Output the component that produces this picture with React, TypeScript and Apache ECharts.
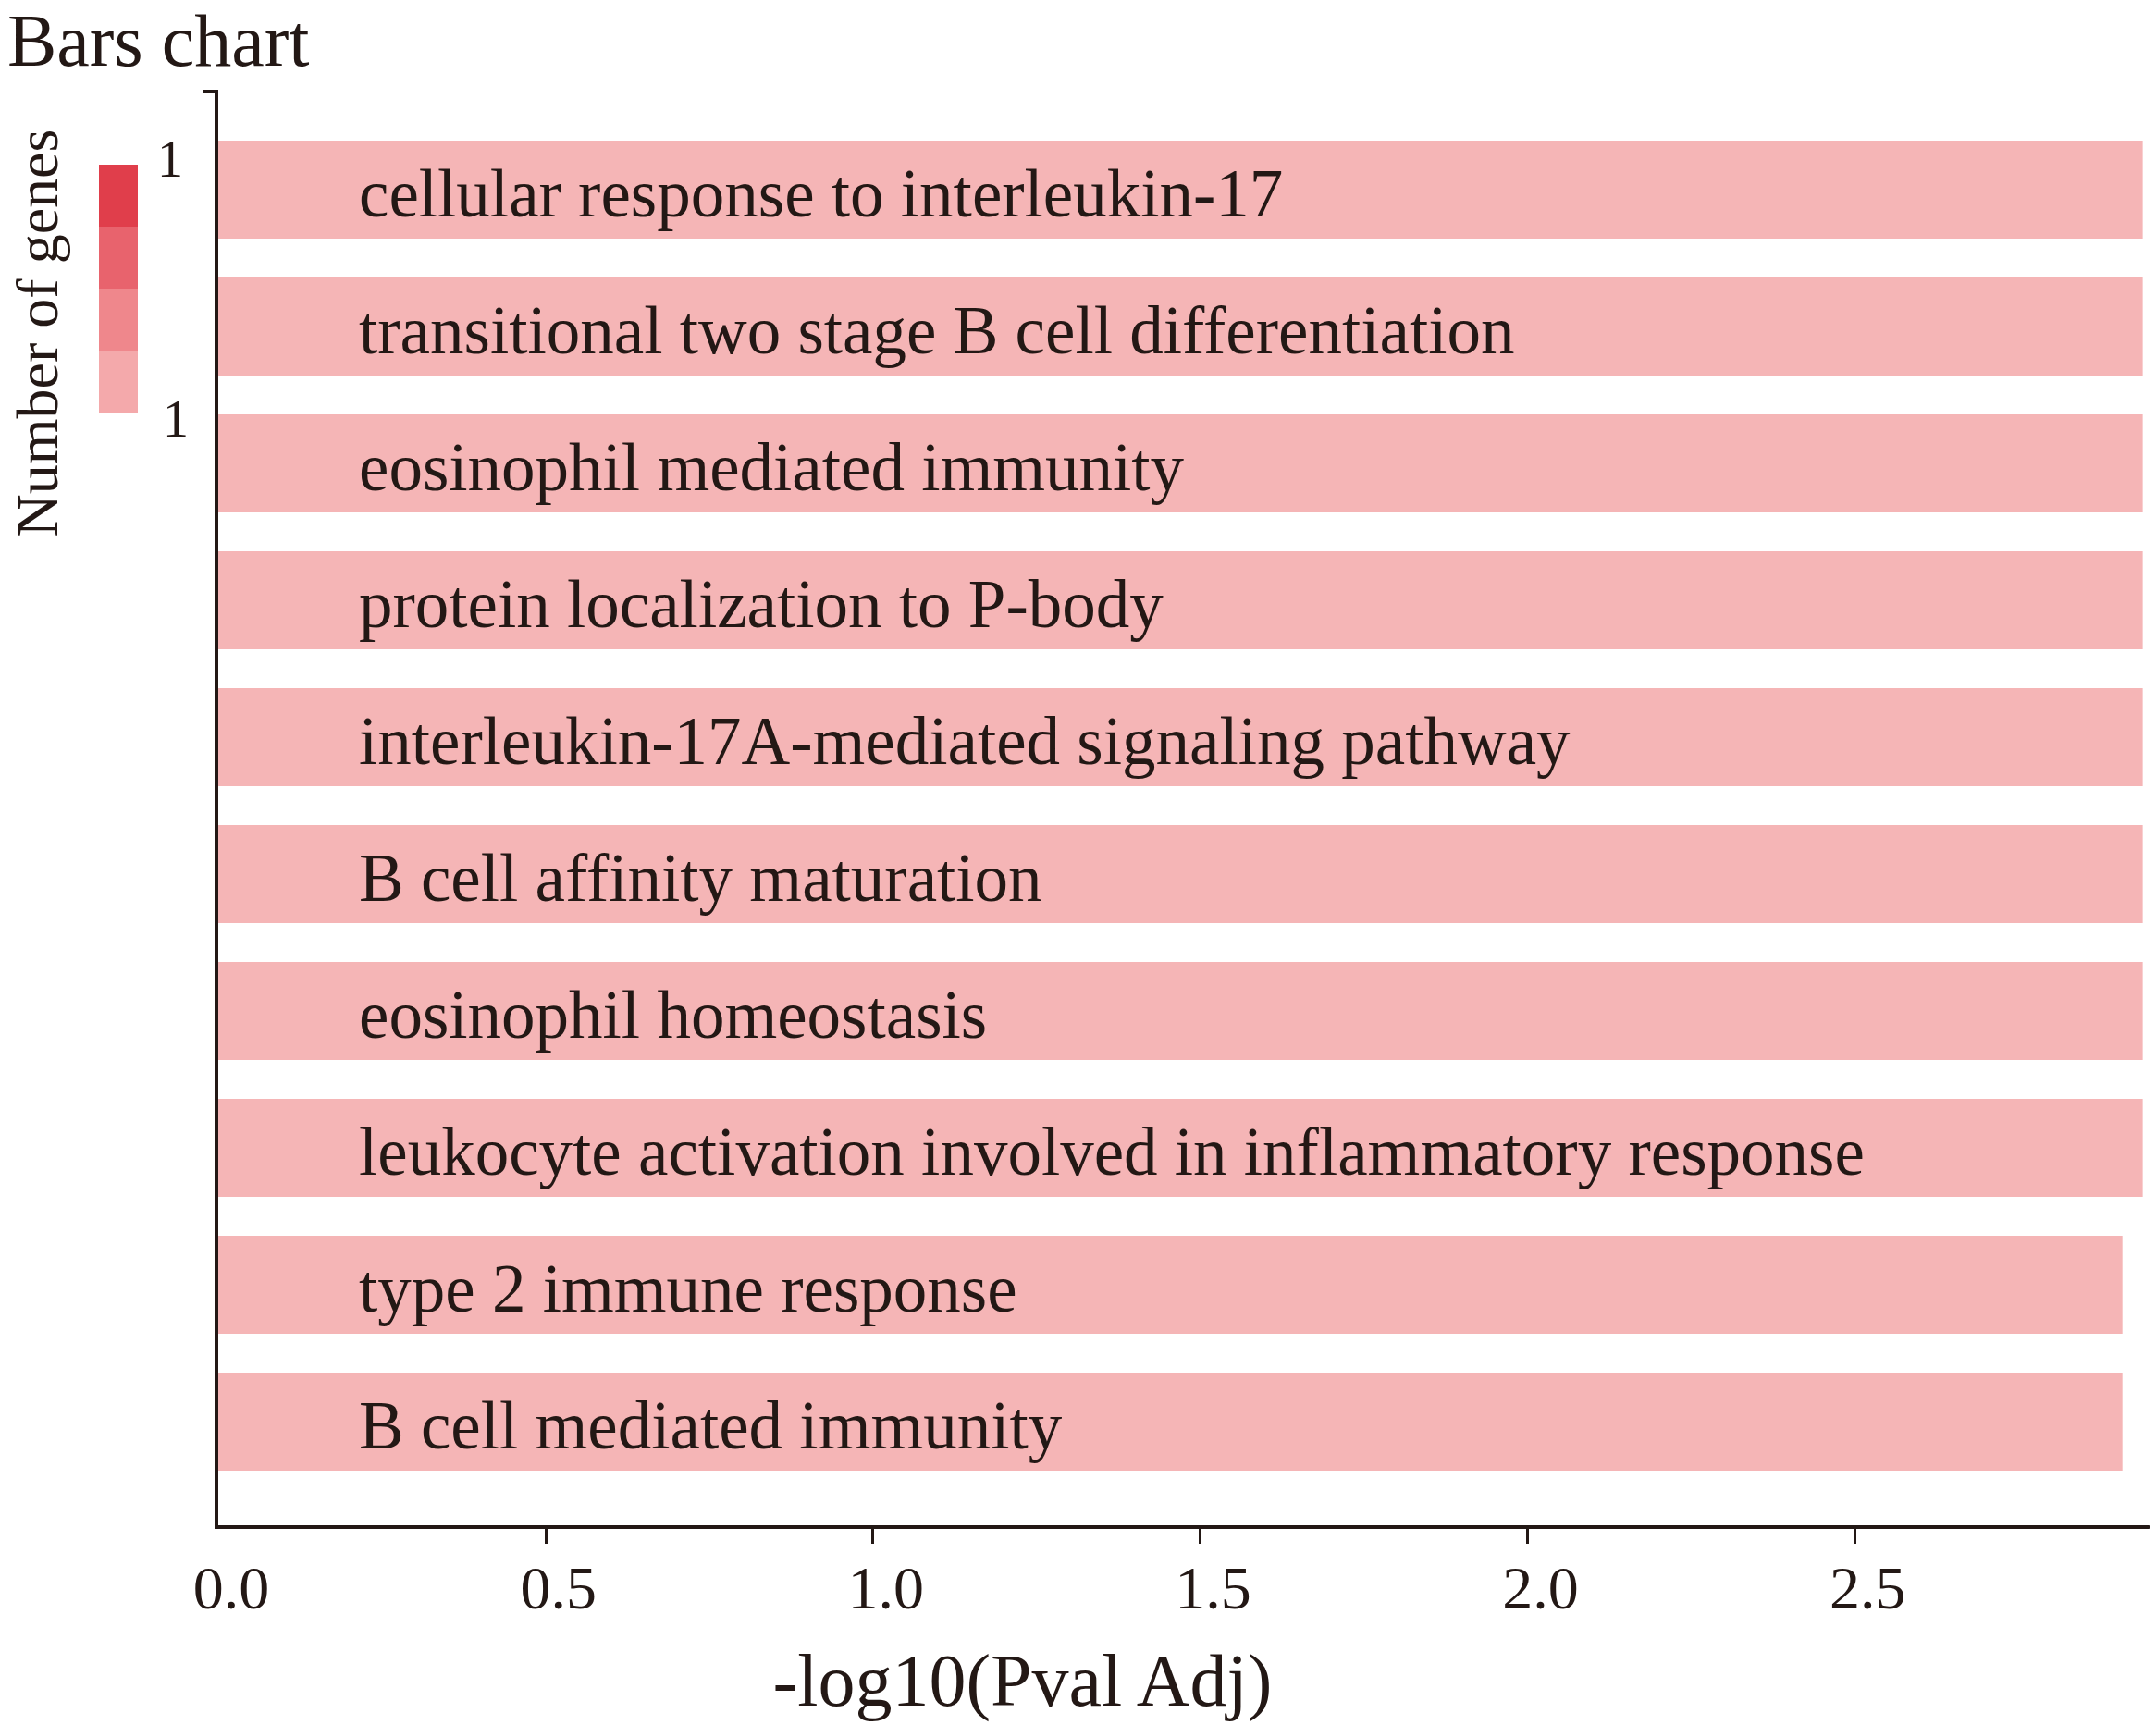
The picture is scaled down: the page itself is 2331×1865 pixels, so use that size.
import React, { useEffect, useRef } from "react";
import * as echarts from "echarts";

const categories = [
  "cellular response to interleukin-17",
  "transitional two stage B cell differentiation",
  "eosinophil mediated immunity",
  "protein localization to P-body",
  "interleukin-17A-mediated signaling pathway",
  "B cell affinity maturation",
  "eosinophil homeostasis",
  "leukocyte activation involved in inflammatory response",
  "type 2 immune response",
  "B cell mediated immunity",
];
const negLog10PvalAdj = [2.94, 2.94, 2.94, 2.94, 2.94, 2.94, 2.94, 2.94, 2.909, 2.909];
const xTickValues = [0.5, 1.0, 1.5, 2.0, 2.5];
const xLabelValues = [0.0, 0.5, 1.0, 1.5, 2.0, 2.5];
const legendColors = ["#e03e4b", "#e8636d", "#ef878c", "#f4a9ab"];
const legendLabels = ["1", "1"];

const FONT = "'Liberation Serif', 'Times New Roman', serif";
const INK = "#231815";
const BAR = "#f5b5b6";

export default function App() {
  const ref = useRef<HTMLDivElement>(null);
  useEffect(() => {
    document.body.style.margin = "0";
    const chart = echarts.init(ref.current!, null, { renderer: "svg" });
    const legendTop = 178;
    const blockH = 67;
    const graphics: any[] = [];
    legendColors.forEach((c, i) => {
      graphics.push({
        type: "rect",
        shape: { x: 107, y: legendTop + i * blockH, width: 42, height: blockH },
        style: { fill: c },
      });
    });
    graphics.push({
      type: "text",
      x: 184,
      y: 172,
      style: { text: legendLabels[0], font: `56px ${FONT}`, fill: INK, align: "center", verticalAlign: "middle" },
    });
    graphics.push({
      type: "text",
      x: 190,
      y: 453,
      style: { text: legendLabels[1], font: `56px ${FONT}`, fill: INK, align: "center", verticalAlign: "middle" },
    });
    graphics.push({
      type: "text",
      x: 40,
      y: 360,
      rotation: Math.PI / 2,
      style: { text: "Number of genes", font: `64px ${FONT}`, fill: INK, align: "center", verticalAlign: "middle" },
    });
    // y axis line extended + top stub
    graphics.push({
      type: "polyline",
      shape: { points: [[219, 99], [234, 99], [234, 1653]] },
      style: { stroke: INK, lineWidth: 4, fill: null },
    });

    chart.setOption({
      animation: false,
      backgroundColor: "#ffffff",
      title: {
        text: "Bars chart",
        left: 8,
        top: 4,
        padding: 0,
        textStyle: { fontFamily: FONT, fontSize: 80, fontWeight: "normal", color: INK },
      },
      graphic: graphics,
      grid: { left: 236, right: 8, top: 131, bottom: 254, containLabel: false, outerBoundsMode: "none" },
      xAxis: {
        type: "value",
        min: 0,
        max: 2.949,
        interval: 0.5,
        offset: 40,
        splitLine: { show: false },
        axisLine: { show: true, lineStyle: { color: INK, width: 4 } },
        axisTick: { show: true, length: 18, lineStyle: { color: INK, width: 3 }, customValues: xTickValues },
        axisLabel: {
          color: INK,
          fontFamily: FONT,
          fontSize: 66,
          margin: 32,
          padding: [0, 0, 0, 28],
          customValues: xLabelValues,
          formatter: (v: number) => v.toFixed(1),
        },
        name: "-log10(Pval Adj)",
        nameLocation: "middle",
        nameGap: 126,
        nameTextStyle: { fontFamily: FONT, fontSize: 80, color: INK, padding: [0, 348, 0, 0] },
      },
      yAxis: {
        type: "category",
        data: categories,
        inverse: true,
        axisLine: { show: false },
        axisTick: { show: false },
        axisLabel: { show: false },
        splitLine: { show: false },
      },
      series: [
        {
          type: "bar",
          data: negLog10PvalAdj,
          barCategoryGap: "28.5%",
          itemStyle: { color: BAR },
          label: {
            show: true,
            position: "insideLeft",
            distance: 152,
            offset: [0, 4],
            formatter: "{b}",
            fontFamily: FONT,
            fontSize: 73,
            color: INK,
          },
        },
      ],
    });
    return () => chart.dispose();
  }, []);
  return <div ref={ref} style={{ width: 2331, height: 1865 }} />;
}
